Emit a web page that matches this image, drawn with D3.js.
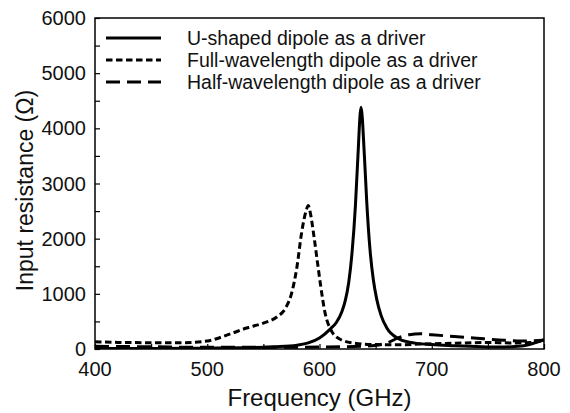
<!DOCTYPE html>
<html>
<head>
<meta charset="utf-8">
<script src="https://cdn.jsdelivr.net/npm/d3@7"></script>
<style>
  body { margin: 0; background: #fff; }
  text { font-family: "Liberation Sans", Arial, sans-serif; fill: #111; }
</style>
</head>
<body>
<svg id="chart" width="570" height="413"></svg>
<script>
// frequency grid (GHz) and read-off input resistance values (ohm)
const uShapedFreq = [400, 450, 500, 540, 560, 580, 590, 600, 610, 615, 620, 623, 626, 629, 632, 634, 637, 640, 642, 645, 648, 651, 655, 660, 670, 680, 700, 720, 740, 760, 780, 790, 800];
const uShapedRes = [10, 10, 15, 25, 40, 70, 110, 200, 370, 480, 680, 880, 1200, 1750, 2600, 3400, 4380, 3500, 2700, 1800, 1250, 900, 600, 380, 190, 125, 80, 60, 45, 35, 55, 100, 170];

const fullFreq = [400, 420, 450, 480, 500, 520, 535, 550, 562, 570, 575, 580, 584, 588, 590, 592, 595, 598, 601, 605, 610, 615, 620, 630, 650, 670, 690, 710, 730, 750, 770, 790, 800];
const fullRes = [130, 120, 115, 115, 145, 270, 380, 470, 580, 750, 1000, 1500, 2100, 2500, 2600, 2450, 2050, 1600, 1150, 650, 350, 220, 160, 110, 80, 75, 90, 100, 110, 120, 110, 120, 160];

const halfFreq = [400, 450, 500, 550, 600, 640, 660, 670, 680, 690, 700, 720, 740, 760, 780, 800];
const halfRes = [50, 40, 30, 30, 35, 50, 110, 200, 260, 275, 260, 225, 195, 165, 145, 160];

const xTicks = [400, 500, 600, 700, 800];
const yTicks = [0, 1000, 2000, 3000, 4000, 5000, 6000];

const seriesNames = [
  'U-shaped dipole as a driver',
  'Full-wavelength dipole as a driver',
  'Half-wavelength dipole as a driver'
];

const margin = { top: 18, right: 26, bottom: 64, left: 95 };
const width = 570 - margin.left - margin.right;
const height = 413 - margin.top - margin.bottom;

const svg = d3.select('#chart');
const g = svg.append('g').attr('transform', `translate(${margin.left},${margin.top})`);

const x = d3.scaleLinear().domain([400, 800]).range([0, width]);
const y = d3.scaleLinear().domain([0, 6000]).range([height, 0]);

const series = [
  { name: seriesNames[0], freq: uShapedFreq, res: uShapedRes, dash: null },
  { name: seriesNames[1], freq: fullFreq, res: fullRes, dash: '6.5,3.5' },
  { name: seriesNames[2], freq: halfFreq, res: halfRes, dash: '14,7' }
];

const line = d3.line()
  .x(d => x(d[0]))
  .y(d => y(d[1]))
  .curve(d3.curveMonotoneX);

g.append('defs').append('clipPath').attr('id', 'clip')
  .append('rect').attr('width', width).attr('height', height);

const plot = g.append('g').attr('clip-path', 'url(#clip)');
series.forEach(s => {
  plot.append('path')
    .datum(d3.zip(s.freq, s.res))
    .attr('d', line)
    .attr('fill', 'none')
    .attr('stroke', '#000')
    .attr('stroke-width', 3)
    .attr('stroke-dasharray', s.dash);
});

// axes with inward ticks
const xAxis = g.append('g').attr('transform', `translate(0,${height})`)
  .call(d3.axisBottom(x).tickValues(d3.range(400, 801, 50)).tickSize(-5).tickFormat(''));
xAxis.selectAll('.tick line').attr('stroke-width', 1.2);
xAxis.select('.domain').remove();
g.append('g').attr('transform', `translate(0,${height})`)
  .selectAll('text').data(xTicks).join('text')
  .attr('x', d => x(d)).attr('y', 27)
  .attr('text-anchor', 'middle')
  .attr('font-size', 20)
  .text(d => d);

const yAxis = g.append('g')
  .call(d3.axisLeft(y).tickValues(d3.range(0, 6001, 500)).tickSize(-5).tickFormat(''));
yAxis.selectAll('.tick line').attr('stroke-width', 1.2);
yAxis.select('.domain').remove();
g.append('g').selectAll('text').data(yTicks).join('text')
  .attr('x', -9).attr('y', d => y(d)).attr('dy', '0.35em')
  .attr('text-anchor', 'end')
  .attr('font-size', 20)
  .text(d => d);

g.append('rect')
  .attr('width', width).attr('height', height)
  .attr('fill', 'none').attr('stroke', '#000').attr('stroke-width', 1.5);

g.append('text')
  .attr('x', width / 2).attr('y', height + 57)
  .attr('text-anchor', 'middle')
  .attr('font-size', 24)
  .text('Frequency (GHz)');

g.append('text')
  .attr('transform', `translate(-62,${height / 2 + 7}) rotate(-90)`)
  .attr('text-anchor', 'middle')
  .attr('font-size', 23)
  .text('Input resistance (Ω)');

// legend
const legend = g.append('g').attr('transform', 'translate(11,20)');
series.forEach((s, i) => {
  const row = legend.append('g').attr('transform', `translate(0,${i * 22})`);
  row.append('line')
    .attr('x1', 0).attr('x2', 55)
    .attr('stroke', '#000').attr('stroke-width', 3)
    .attr('stroke-dasharray', s.dash);
  row.append('text')
    .attr('x', 81).attr('dy', '0.35em')
    .attr('font-size', 19.5)
    .text(s.name);
});
</script>
</body>
</html>
